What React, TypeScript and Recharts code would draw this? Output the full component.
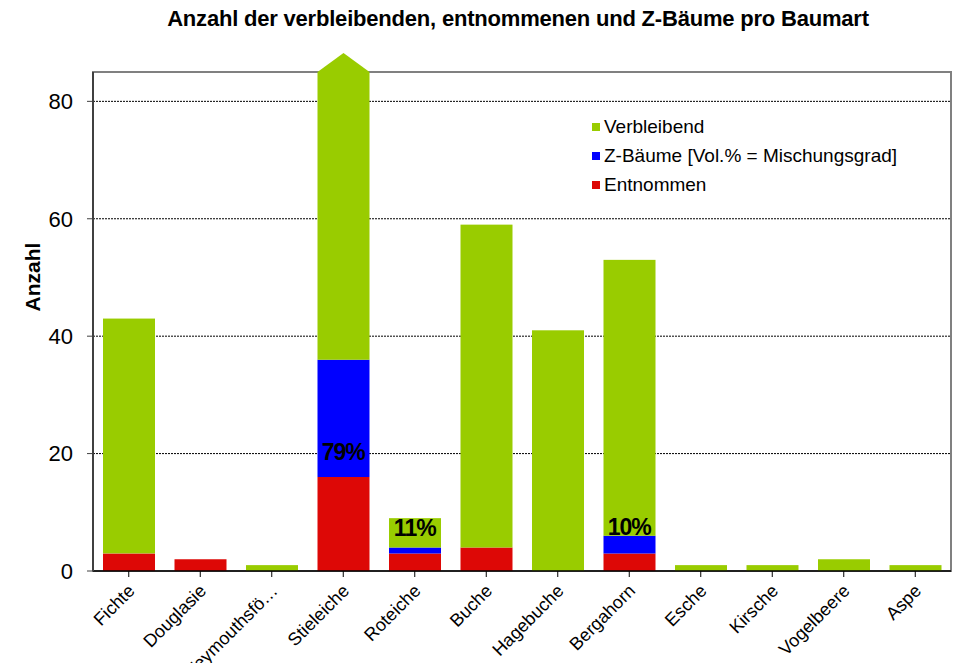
import React from "react";
import {
  BarChart,
  Bar,
  XAxis,
  YAxis,
  CartesianGrid,
  ReferenceArea,
  ReferenceDot,
} from "recharts";

const baumarten = [
  "Fichte",
  "Douglasie",
  "Weymouthsfö…",
  "Stieleiche",
  "Roteiche",
  "Buche",
  "Hagebuche",
  "Bergahorn",
  "Esche",
  "Kirsche",
  "Vogelbeere",
  "Aspe",
];
const entnommen = [3, 2, 0, 16, 3, 4, 0, 3, 0, 0, 0, 0];
const zBaeume = [0, 0, 0, 20, 1, 0, 0, 3, 0, 0, 0, 0];
// Stieleiche is cut off at the top of the axis (drawn with an arrow)
const verbleibend = [40, 0, 1, 49, 5, 55, 41, 47, 1, 1, 2, 1];
const ueberlauf = [false, false, false, true, false, false, false, false, false, false, false, false];

const mischLabels = [
  { baumart: "Stieleiche", text: "79%", y: 20.3 },
  { baumart: "Roteiche", text: "11%", y: 7.3 },
  { baumart: "Bergahorn", text: "10%", y: 7.5 },
];

const yTicks = [0, 20, 40, 60, 80];

const GREEN = "#99cc00";
const BLUE = "#0000ff";
const RED = "#dd0806";

const data = baumarten.map((name, i) => ({
  name,
  entnommen: entnommen[i],
  zBaeume: zBaeume[i],
  verbleibend: verbleibend[i],
  overflow: ueberlauf[i],
}));

const FONT = "'Liberation Sans', Arial, sans-serif";

function XTick(props: any) {
  const { x, y, payload } = props;
  return (
    <g transform={`translate(${x + 7},${y + 13})`}>
      <text
        transform="rotate(-45)"
        textAnchor="end"
        fontSize={18}
        fontFamily={FONT}
        fill="#000"
      >
        {payload.value}
      </text>
    </g>
  );
}

function GreenShape(props: any) {
  const { x, y, width, height, payload } = props;
  if (!height || height <= 0) return null;
  if (payload && payload.overflow) {
    const tip = 19;
    const d = `M${x},${y + height} L${x},${y} L${x + width / 2},${y - tip} L${x + width},${y} L${x + width},${y + height} Z`;
    return <path d={d} fill={GREEN} />;
  }
  return <rect x={x} y={y} width={width} height={height} fill={GREEN} />;
}

function LegendBox() {
  const items = [
    { label: "Verbleibend", color: GREEN },
    { label: "Z-Bäume [Vol.% = Mischungsgrad]", color: BLUE },
    { label: "Entnommen", color: RED },
  ];
  return (
    <div
      style={{
        position: "absolute",
        left: 592,
        top: 112,
        fontFamily: FONT,
        fontSize: 19,
        color: "#000",
        whiteSpace: "nowrap",
      }}
    >
      {items.map((it) => (
        <div
          key={it.label}
          style={{ display: "flex", alignItems: "center", height: 29, lineHeight: "29px" }}
        >
          <span
            style={{
              display: "inline-block",
              width: 8,
              height: 8,
              background: it.color,
              marginRight: 4,
            }}
          />
          {it.label}
        </div>
      ))}
    </div>
  );
}

export default function App() {
  return (
    <div
      style={{
        position: "absolute",
        left: 0,
        top: 0,
        width: 955,
        height: 663,
        background: "#fff",
        overflow: "hidden",
      }}
    >
      <BarChart
        width={955}
        height={663}
        data={data}
        margin={{ top: 72, right: 4, bottom: 0, left: 0 }}
        barSize={52}
        style={{ position: "absolute", left: 0, top: 0 }}
      >
        <CartesianGrid
          vertical={false}
          stroke="#000"
          strokeDasharray="2 1"
          strokeWidth={1}
        />
        <ReferenceArea
          y1={0}
          y2={85}
          fill="none"
          stroke="#808080"
          strokeWidth={2}
          ifOverflow="visible"
        />
        <XAxis
          dataKey="name"
          interval={0}
          height={92}
          tick={<XTick />}
          tickSize={6}
          tickLine={{ stroke: "#000" }}
          axisLine={{ stroke: "#000", strokeWidth: 1.5 }}
        />
        <YAxis
          domain={[0, 85]}
          ticks={yTicks}
          width={93}
          tickSize={6}
          tickMargin={14}
          tick={{ fill: "#000", fontSize: 22, fontFamily: FONT }}
          tickLine={{ stroke: "#404040" }}
          axisLine={{ stroke: "#404040", strokeWidth: 2 }}
          label={{
            content: () => (
              <text
                x={40}
                y={277}
                transform="rotate(-90, 40, 277)"
                textAnchor="middle"
                fontSize={21}
                fontWeight="bold"
                fontFamily={FONT}
                fill="#000"
              >
                Anzahl
              </text>
            ),
          }}
        />
        <Bar dataKey="entnommen" name="Entnommen" stackId="a" fill={RED} isAnimationActive={false} />
        <Bar dataKey="zBaeume" name="Z-Bäume [Vol.% = Mischungsgrad]" stackId="a" fill={BLUE} isAnimationActive={false} />
        <Bar
          dataKey="verbleibend"
          name="Verbleibend"
          stackId="a"
          fill={GREEN}
          shape={<GreenShape />}
          isAnimationActive={false}
        />
        {mischLabels.map((l) => (
          <ReferenceDot
            key={l.baumart}
            x={l.baumart}
            y={l.y}
            r={1}
            fill="none"
            stroke="none"
            label={{
              value: l.text,
              position: "center",
              fontSize: 23,
              fontWeight: "bold",
              fontFamily: FONT,
              fill: "#000",
              letterSpacing: -1,
            }}
          />
        ))}
      </BarChart>
      <div
        style={{
          position: "absolute",
          top: 6,
          left: 0,
          width: 1036,
          textAlign: "center",
          fontFamily: FONT,
          fontWeight: "bold",
          fontSize: 22,
          color: "#000",
          letterSpacing: -0.2,
        }}
      >
        Anzahl der verbleibenden, entnommenen und Z-Bäume pro Baumart
      </div>
      <LegendBox />
    </div>
  );
}
